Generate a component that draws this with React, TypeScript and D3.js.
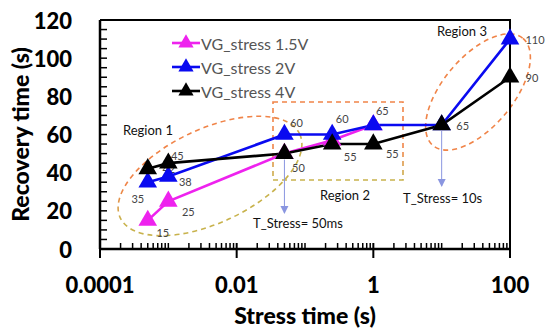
import * as d3 from 'd3';

const W = 550;
const H = 336;
const M = { top: 20, right: 40, bottom: 87, left: 100 };

// stress time (s) of each measurement
const stressTimes = [0.0005, 0.001, 0.05, 0.25, 1, 10, 100];
// recovery time (s) per gate stress voltage
const vg15 = [15, 25, 50, 57, 65];
const vg2 = [35, 38, 60, 60, 65, 65, 110];
const vg4 = [42, 45, 50, 55, 55, 65, 90];

const seriesNames = ['VG_stress 1.5V', 'VG_stress 2V', 'VG_stress 4V'];
const seriesColors = ['#ee22ee', '#0a0af0', '#000000'];

// which points carry a value label
const labels15 = [true, true, false, false, false];
const labels2 = [true, true, true, true, true, false, true];
const labels4 = [true, true, true, true, true, true, true];

// label offsets from the marker (px)
const off15 = [[15, 12], [20, 10], [0, 0], [0, 0], [0, 0]];
const off2 = [[-10, 16], [17, 5], [12, -12], [10, -16], [9, -14], [0, 0], [25, 0]];
const off4 = [[21, 0], [9, -8], [14, 14], [18, 12], [19, 9], [21, 1], [22, 0]];

const yTicks = [0, 20, 40, 60, 80, 100, 120];
const xTickLabels = ['0.0001', '0.01', '1', '100'];
const xTickValues = [0.0001, 0.01, 1, 100];

const FONT = 'Lato, "Open Sans", sans-serif';

export default function App() {
  const x = d3.scaleLog().domain([0.0001, 100]).range([M.left, W - M.right]);
  const y = d3.scaleLinear().domain([0, 120]).range([H - M.bottom, M.top]);
  const x0 = M.left;
  const x1 = W - M.right;
  const yb = H - M.bottom;
  const yt = M.top;

  const tri = d3.symbol().type(d3.symbolTriangle).size(150)();
  const legTri = d3.symbol().type(d3.symbolTriangle).size(100)();

  const series = [
    { vals: vg15, labels: labels15, off: off15 },
    { vals: vg2, labels: labels2, off: off2 },
    { vals: vg4, labels: labels4, off: off4 },
  ];

  const line = d3.line<[number, number]>().x((d) => x(d[0])).y((d) => y(d[1]));

  // minor ticks 2..9 per decade plus unlabelled decades
  const minorTicks: number[] = [];
  for (let e = -4; e < 2; e++) {
    for (let k = 1; k <= 9; k++) {
      if (k === 1 && e % 2 === 0) continue;
      minorTicks.push(k * Math.pow(10, e));
    }
  }
  const yMinor = d3.range(0, 121, 5);

  return (
    <svg width={W} height={H} style={{ position: 'absolute', left: 0, top: 0, background: '#fff' }} fontFamily={FONT}>
      <defs>
        <linearGradient id="regGrad" gradientUnits="userSpaceOnUse" x1="0" y1="150" x2="0" y2="178">
          <stop offset="0" stopColor="#f08448" />
          <stop offset="1" stopColor="#c8b24c" />
        </linearGradient>
      </defs>

      {/* regions */}
      <ellipse cx={210} cy={176} rx={99} ry={47} transform="rotate(-25 210 176)" fill="none" stroke="url(#regGrad)" strokeWidth={1.6} strokeDasharray="5,4" />
      <rect x={273} y={102} width={130} height={78} fill="none" stroke="url(#regGrad)" strokeWidth={1.6} strokeDasharray="5,4" />
      <ellipse cx={478} cy={92} rx={70} ry={35} transform="rotate(-50 478 92)" fill="none" stroke="#f08448" strokeWidth={1.6} strokeDasharray="5,4" />

      {/* stress arrows */}
      <line x1={x(0.05)} x2={x(0.05)} y1={y(50) + 6} y2={213} stroke="#8a96e0" strokeWidth={1} />
      <path d={`M${x(0.05) - 4},${206} L${x(0.05) + 4},${206} L${x(0.05)},${214} z`} fill="#8a96e0" />
      <line x1={x(10)} x2={x(10)} y1={y(65) + 6} y2={186} stroke="#8a96e0" strokeWidth={1} />
      <path d={`M${x(10) - 4},${179} L${x(10) + 4},${179} L${x(10)},${187} z`} fill="#8a96e0" />

      <g fontSize={13} fill="#111">
        <text x={123} y={135}>Region 1</text>
        <text x={320} y={200}>Region 2</text>
        <text x={437} y={36}>Region 3</text>
        <text x={253} y={228}>T_Stress= 50ms</text>
        <text x={403} y={203}>T_Stress= 10s</text>
      </g>

      {/* frame */}
      <path d={`M${x0},${yt} H${x1} V${yb}`} fill="none" stroke="#000" strokeWidth={2} />

      {/* series */}
      {series.map((s, i) => {
        const pts: [number, number][] = s.vals.map((v, j) => [stressTimes[j], v]);
        return <path key={i} d={line(pts) || ''} fill="none" stroke={seriesColors[i]} strokeWidth={2.6} />;
      })}
      {series.map((s, i) => (
        <g key={'l' + i} fontSize={11} fill="#444">
          {s.vals.map((v, j) =>
            s.labels[j] ? (
              <text key={j} x={x(stressTimes[j]) + s.off[j][0]} y={y(v) + s.off[j][1]} textAnchor="middle" dominantBaseline="central">
                {v}
              </text>
            ) : null
          )}
        </g>
      ))}
      {series.map((s, i) => (
        <g key={'m' + i}>
          {s.vals.map((v, j) => (
            <path key={j} d={tri || ''} transform={`translate(${x(stressTimes[j])},${y(v)})`} fill={seriesColors[i]} />
          ))}
        </g>
      ))}

      {/* y axis */}
      <line x1={x0} x2={x0} y1={yt} y2={yb} stroke="#000" strokeWidth={2.5} />
      {yMinor.map((t) => (
        <line key={t} x1={x0} x2={x0 + 7} y1={y(t)} y2={y(t)} stroke="#000" strokeWidth={1.5} />
      ))}
      <g fontSize={22} fontWeight={900} fill="#000" textAnchor="end">
        {yTicks.map((t) => (
          <text key={t} x={x0 - 28} y={y(t)} dominantBaseline="central">
            {t}
          </text>
        ))}
      </g>

      {/* x axis */}
      <line x1={x0} x2={x1} y1={yb} y2={yb} stroke="#000" strokeWidth={2.5} />
      {minorTicks.map((t, k) => (
        <line key={k} x1={x(t)} x2={x(t)} y1={yb} y2={yb - 6} stroke="#000" strokeWidth={1.5} />
      ))}
      {xTickValues.map((t) => (
        <line key={t} x1={x(t)} x2={x(t)} y1={yb - 6} y2={yb + 9} stroke="#000" strokeWidth={2} />
      ))}
      <g fontSize={22} fontWeight={900} fill="#000" textAnchor="middle">
        {xTickValues.map((t, k) => (
          <text key={t} x={x(t)} y={284} dominantBaseline="central">
            {xTickLabels[k]}
          </text>
        ))}
      </g>

      <text x={305} y={315} fontSize={23} fontWeight={900} textAnchor="middle" dominantBaseline="central">
        Stress time (s)
      </text>
      <text transform={`translate(20,${(yt + yb) / 2}) rotate(-90)`} fontSize={23} fontWeight={900} textAnchor="middle" dominantBaseline="central">
        Recovery time (s)
      </text>

      {/* legend */}
      {seriesNames.map((n, i) => (
        <g key={n} transform={`translate(172,${43 + i * 24})`}>
          <line x1={0} x2={28} y1={0} y2={0} stroke={seriesColors[i]} strokeWidth={2.6} />
          <path d={legTri || ''} transform="translate(14,0)" fill={seriesColors[i]} />
          <text x={29} y={0} fontSize={16} fill="#555" dominantBaseline="central">
            {n}
          </text>
        </g>
      ))}
    </svg>
  );
}
